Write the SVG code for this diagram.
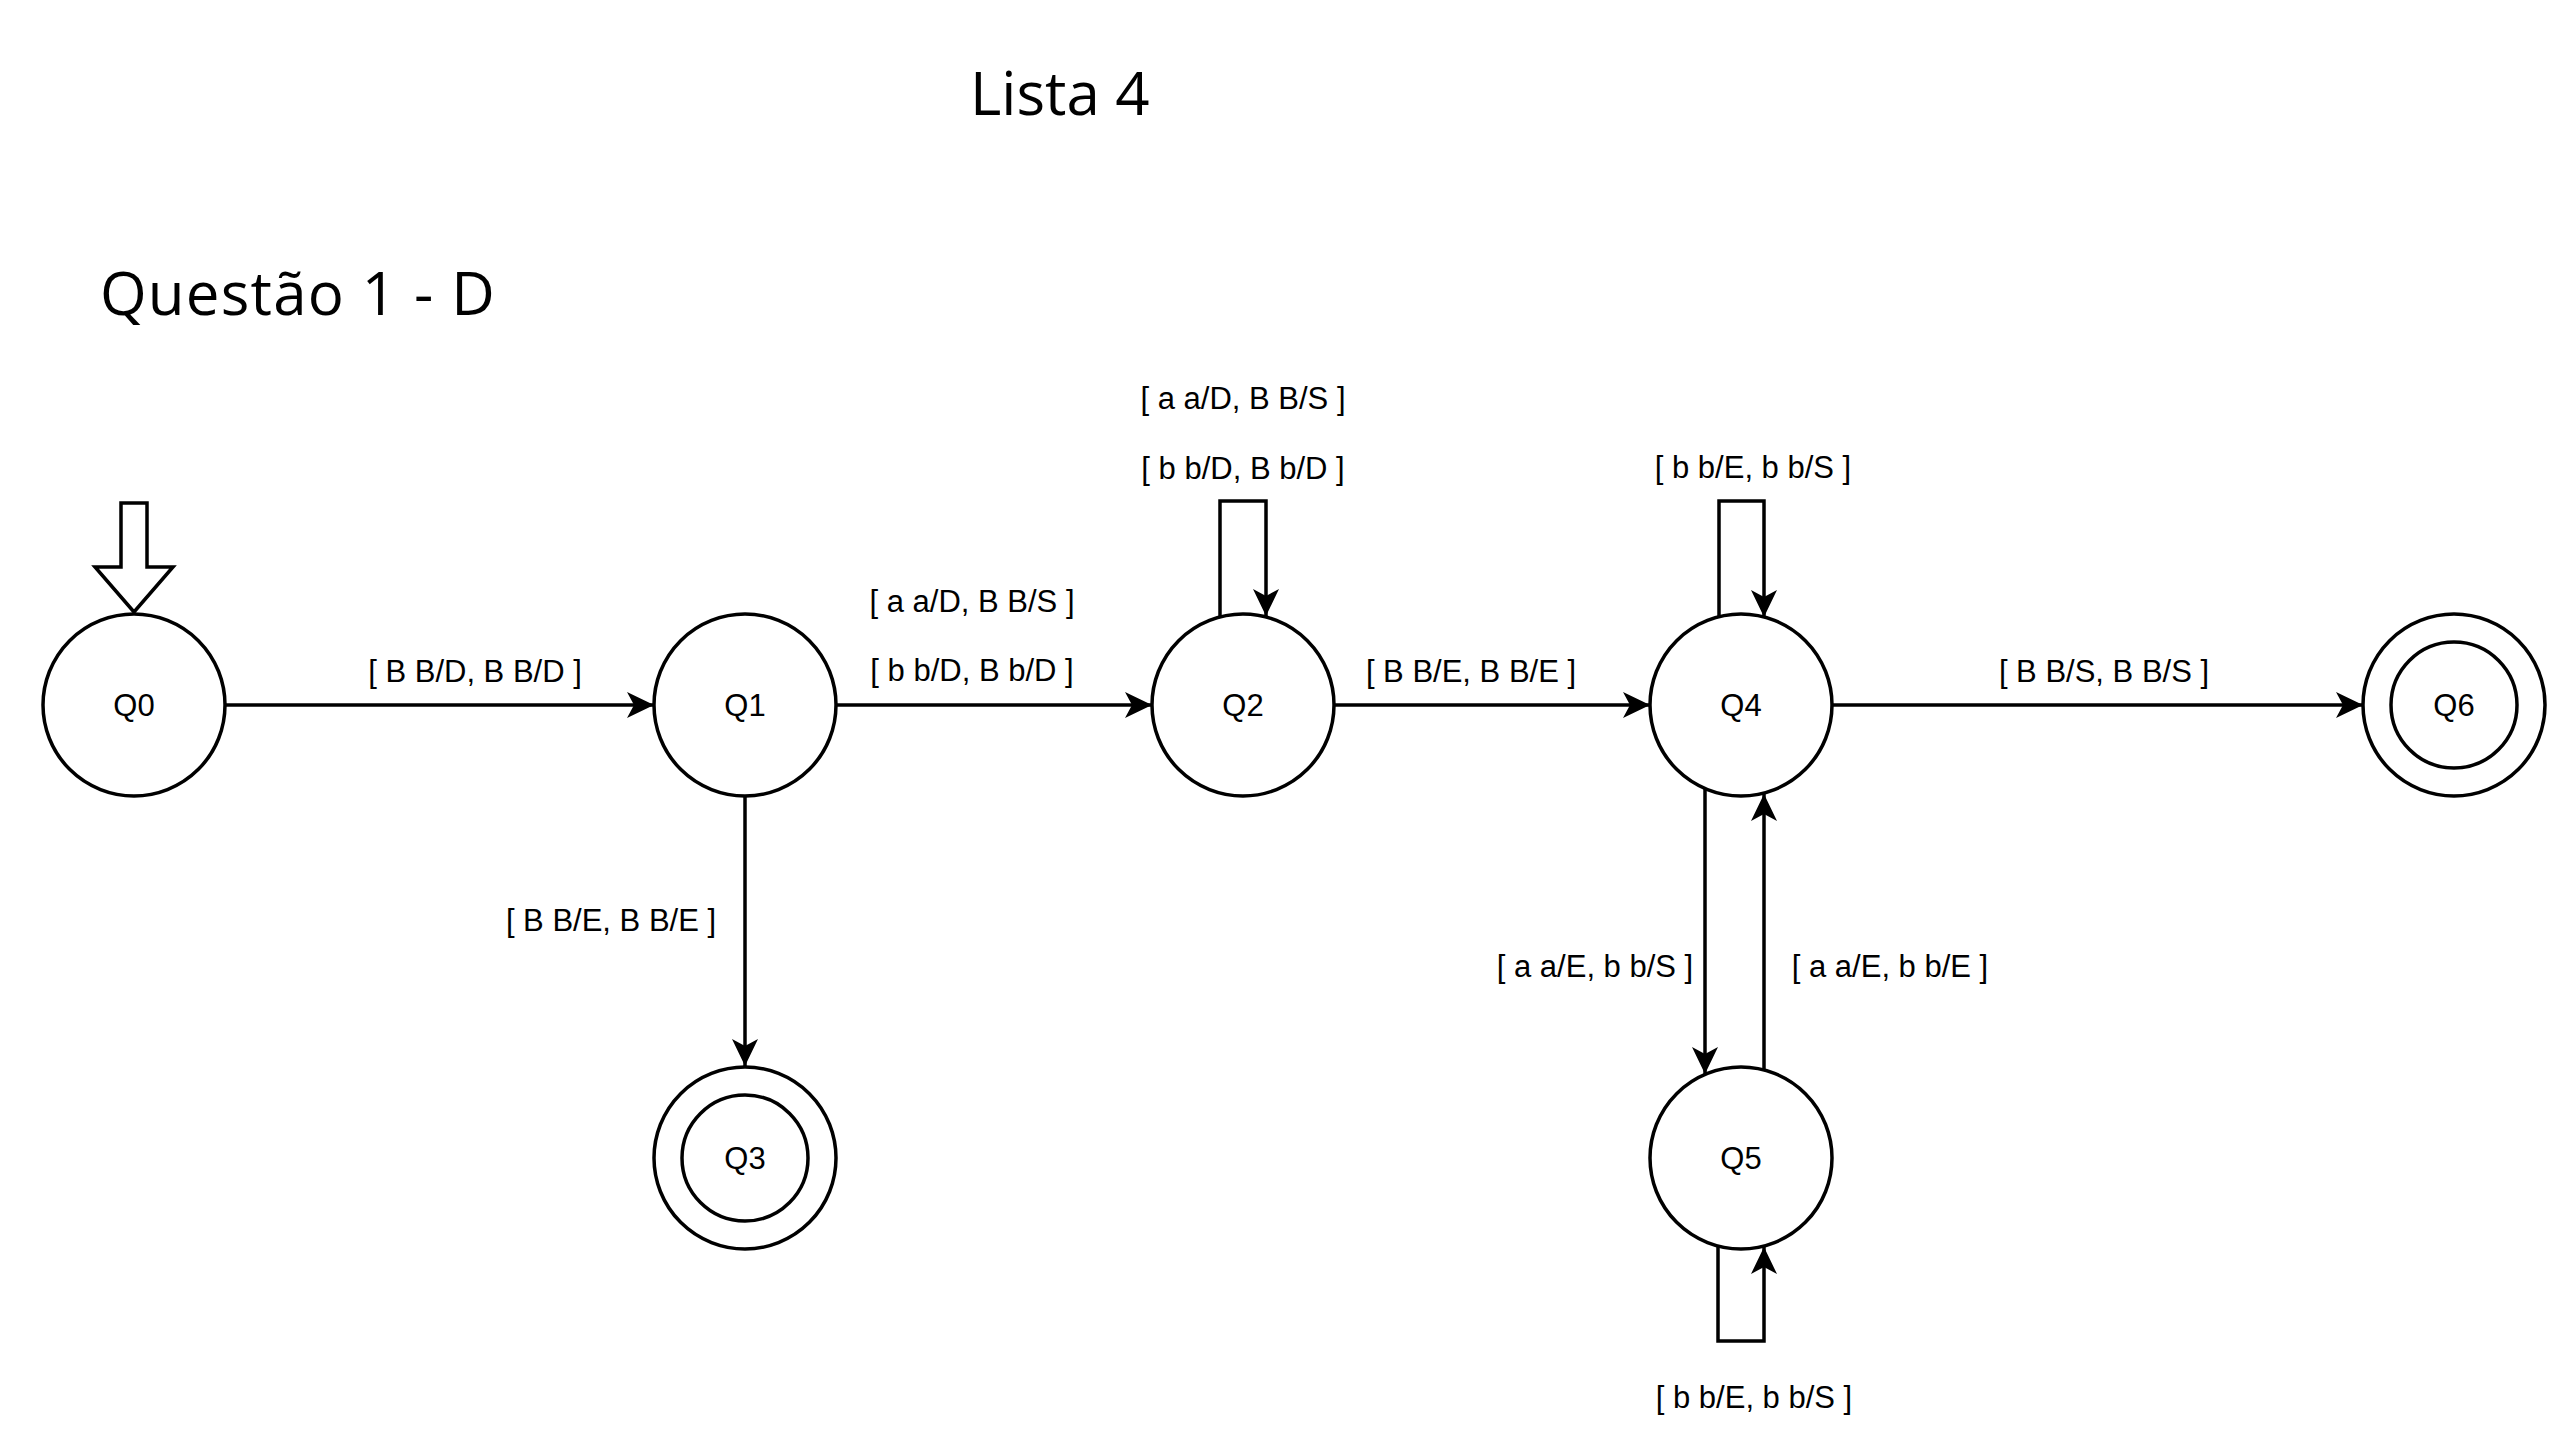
<svg xmlns="http://www.w3.org/2000/svg" width="2560" height="1440" viewBox="0 0 2560 1440">
<style>
.st{fill:#fff;stroke:#000;stroke-width:3.5}
.ln{fill:none;stroke:#000;stroke-width:3.5}
.lb{font-family:"Liberation Sans",Arial,sans-serif;font-size:31px;fill:#000;text-anchor:middle}
.tt{font-family:"Open Sans","Noto Sans",sans-serif;font-size:60px;fill:#000}
</style>
<defs>
<marker id="arr" markerUnits="userSpaceOnUse" markerWidth="30" markerHeight="30" refX="27" refY="13" orient="auto">
<path d="M0,0 L27,13 L0,26 L7,13 Z" fill="#000"/>
</marker>
</defs>
<rect width="2560" height="1440" fill="#fff"/>
<text class="tt" x="970" y="115">Lista 4</text>
<text class="tt" x="100" y="315" letter-spacing="1.2">Questão 1 - D</text>
<g id="connectors">
<path class="ln" d="M225,705 H654" marker-end="url(#arr)"/>
<path class="ln" d="M836,705 H1152" marker-end="url(#arr)"/>
<path class="ln" d="M1334,705 H1650" marker-end="url(#arr)"/>
<path class="ln" d="M1832,705 H2363" marker-end="url(#arr)"/>
<path class="ln" d="M745,796 V1066" marker-end="url(#arr)"/>
<path class="ln" d="M1220,617 V501 H1266 V616" marker-end="url(#arr)"/>
<path class="ln" d="M1719,617 V501 H1764 V617" marker-end="url(#arr)"/>
<path class="ln" d="M1705,789 V1074" marker-end="url(#arr)"/>
<path class="ln" d="M1764,1070 V794" marker-end="url(#arr)"/>
<path class="ln" d="M1718,1247 V1341 H1764 V1247" marker-end="url(#arr)"/>
<text class="lb" x="475" y="682">[ B B/D, B B/D ]</text>
<text class="lb" x="972" y="612">[ a a/D, B B/S ]</text>
<text class="lb" x="972" y="681">[ b b/D, B b/D ]</text>
<text class="lb" x="1243" y="409">[ a a/D, B B/S ]</text>
<text class="lb" x="1243" y="479">[ b b/D, B b/D ]</text>
<text class="lb" x="1471" y="682">[ B B/E, B B/E ]</text>
<text class="lb" x="1753" y="478">[ b b/E, b b/S ]</text>
<text class="lb" x="2104" y="682">[ B B/S, B B/S ]</text>
<text class="lb" x="611" y="931">[ B B/E, B B/E ]</text>
<text class="lb" x="1595" y="977">[ a a/E, b b/S ]</text>
<text class="lb" x="1890" y="977">[ a a/E, b b/E ]</text>
<text class="lb" x="1754" y="1408">[ b b/E, b b/S ]</text>
</g>
<g id="start">
<polygon class="st" points="121,503 147,503 147,567 173,567 134,612 95,567 121,567"/>
</g>
<g id="Q0"><circle class="st" cx="134" cy="705" r="91"/><text class="lb" x="134" y="716">Q0</text></g>
<g id="Q1"><circle class="st" cx="745" cy="705" r="91"/><text class="lb" x="745" y="716">Q1</text></g>
<g id="Q2"><circle class="st" cx="1243" cy="705" r="91"/><text class="lb" x="1243" y="716">Q2</text></g>
<g id="Q4"><circle class="st" cx="1741" cy="705" r="91"/><text class="lb" x="1741" y="716">Q4</text></g>
<g id="Q6"><circle class="st" cx="2454" cy="705" r="91"/><circle class="st" cx="2454" cy="705" r="63"/><text class="lb" x="2454" y="716">Q6</text></g>
<g id="Q3"><circle class="st" cx="745" cy="1158" r="91"/><circle class="st" cx="745" cy="1158" r="63"/><text class="lb" x="745" y="1169">Q3</text></g>
<g id="Q5"><circle class="st" cx="1741" cy="1158" r="91"/><text class="lb" x="1741" y="1169">Q5</text></g>
</svg>
